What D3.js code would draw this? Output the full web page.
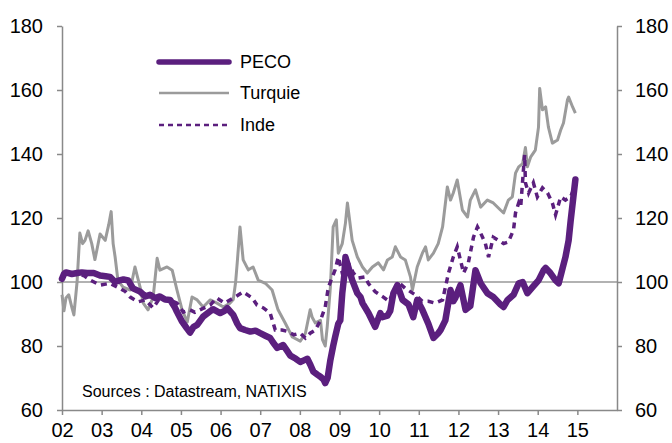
<!DOCTYPE html>
<html>
<head>
<meta charset="utf-8">
<title>PECO, Turquie, Inde</title>
<script src="https://cdn.jsdelivr.net/npm/d3@7"></script>
<style>
  body { margin: 0; background: #fff; }
  svg { display: block; font-family: "Liberation Sans", Arial, sans-serif; }
  .axis path, .axis line { stroke: #898989; stroke-width: 1.5; }
  .axis text { font-size: 20px; fill: #000; }
</style>
</head>
<body>
<svg id="chart" width="672" height="443"></svg>
<script>
// values (decimal year, index)
var peco = [
  [2002.00,101],[2002.05,102.5],[2002.10,103],[2002.25,102.5],[2002.38,102.8],[2002.50,103],
  [2002.63,102.8],[2002.80,102.8],[2002.96,102],[2003.10,101.8],[2003.21,101.6],[2003.34,100],
  [2003.45,100.5],[2003.55,100.8],[2003.67,100.5],[2003.79,98],[2003.97,97],[2004.10,95.5],
  [2004.22,96],[2004.35,95],[2004.47,95.5],[2004.60,94.5],[2004.73,94.4],[2004.85,92],
  [2004.90,90.7],[2005.03,87.6],[2005.15,85.5],[2005.23,84.2],[2005.32,86],[2005.41,86.6],
  [2005.56,89.2],[2005.70,90.5],[2005.81,91.5],[2005.99,90.3],[2006.10,91],[2006.17,91.8],
  [2006.32,89.7],[2006.42,87],[2006.49,85.6],[2006.62,85],[2006.75,84.5],[2006.88,84.8],
  [2007.00,84],[2007.13,83.2],[2007.25,82.5],[2007.33,81],[2007.43,79.4],[2007.58,80.3],
  [2007.68,78.5],[2007.76,77],[2007.90,76],[2008.01,75],[2008.10,75.5],[2008.19,76],
  [2008.27,74],[2008.34,72],[2008.45,71],[2008.52,70.4],[2008.60,69.5],[2008.64,68.4],
  [2008.70,70],[2008.77,75.6],[2008.84,80],[2008.89,82.8],[2008.97,87],[2009.02,88],
  [2009.07,96.5],[2009.12,102],[2009.15,107.8],[2009.22,104.8],[2009.32,100.6],[2009.45,96.5],
  [2009.53,95.3],[2009.58,93.4],[2009.73,90.3],[2009.90,86],[2010.03,90.3],[2010.08,89],
  [2010.21,89.5],[2010.28,91],[2010.36,96.5],[2010.46,99],[2010.59,94.4],[2010.74,93],
  [2010.86,89],[2010.96,94.4],[2011.09,91.3],[2011.24,87],[2011.37,82.5],[2011.49,84],
  [2011.55,85],[2011.67,88],[2011.80,97.5],[2011.87,94],[2011.92,95],[2012.05,99],
  [2012.18,91.3],[2012.30,92.5],[2012.43,103.7],[2012.56,99.6],[2012.73,96.5],[2012.88,95.3],
  [2013.06,93],[2013.14,92.2],[2013.24,94.4],[2013.39,96],[2013.52,99.6],[2013.62,100],
  [2013.74,96.5],[2013.87,98.4],[2014.02,100.5],[2014.15,103.7],[2014.20,104.4],[2014.32,102.8],
  [2014.45,100.5],[2014.53,99.6],[2014.60,103],[2014.70,107.8],[2014.78,113],[2014.83,119],
  [2014.90,126.6],[2014.95,132]
];

var turquie = [
  [2002.00,96],[2002.05,91],[2002.10,95],[2002.17,96],[2002.25,92],[2002.30,89.7],
  [2002.38,100],[2002.45,115.3],[2002.52,112],[2002.58,113],[2002.66,116],[2002.75,112],
  [2002.83,107],[2002.88,110],[2002.96,115],[2003.09,113],[2003.18,118],[2003.24,122],
  [2003.29,112],[2003.34,107.8],[2003.41,100.6],[2003.54,98.4],[2003.72,97.5],[2003.84,104.7],
  [2003.97,98.4],[2004.05,93.4],[2004.17,91.3],[2004.30,95.3],[2004.40,107.4],[2004.47,103.7],
  [2004.65,104.7],[2004.78,103.7],[2004.90,97.5],[2005.03,91.3],[2005.16,87.5],[2005.28,95.3],
  [2005.41,94.4],[2005.56,92.2],[2005.74,94.4],[2005.91,93.4],[2006.07,92.2],[2006.24,93.4],
  [2006.32,94.5],[2006.38,100],[2006.42,106],[2006.49,117.2],[2006.57,106.9],[2006.70,103.8],
  [2006.82,104.7],[2006.95,100.6],[2007.13,99.6],[2007.30,97.5],[2007.45,91.3],[2007.63,87.2],
  [2007.81,82.8],[2008.01,81.5],[2008.14,84],[2008.26,91.3],[2008.31,89],[2008.39,87.2],
  [2008.52,88],[2008.57,82],[2008.64,80],[2008.69,86],[2008.77,98.4],[2008.84,117.2],
  [2008.92,119.4],[2008.97,109],[2009.07,112],[2009.15,118.4],[2009.20,124.7],[2009.32,113],
  [2009.45,107.8],[2009.58,104.7],[2009.70,102.8],[2009.83,104.7],[2009.98,106],[2010.11,103.8],
  [2010.21,106.9],[2010.33,107.8],[2010.41,111],[2010.54,107.8],[2010.66,106.9],[2010.79,101.6],
  [2010.84,97.5],[2010.96,104.7],[2011.09,109],[2011.17,111],[2011.24,106.9],[2011.37,109],
  [2011.49,112],[2011.60,117.2],[2011.72,129.7],[2011.80,125.6],[2011.87,127.8],[2011.97,131.9],
  [2012.10,122.5],[2012.23,120.3],[2012.30,125.6],[2012.43,128.8],[2012.56,123.4],[2012.73,125.6],
  [2012.88,124.7],[2013.06,122.5],[2013.14,121.6],[2013.26,125.6],[2013.36,126.6],[2013.44,134],
  [2013.52,136],[2013.62,137],[2013.69,142],[2013.74,136],[2013.82,139],[2013.94,141.2],
  [2014.02,148.4],[2014.05,160.5],[2014.12,153.8],[2014.20,154.7],[2014.27,148.4],[2014.37,143.4],
  [2014.50,144.4],[2014.58,147.5],[2014.65,149.7],[2014.75,156.9],[2014.78,157.8],[2014.88,154.7],
  [2014.95,152.8]
];

var inde = [
  [2002.00,101],[2002.10,102.5],[2002.30,102.5],[2002.55,102],[2002.71,100.6],[2002.96,99],
  [2003.21,99.6],[2003.46,98],[2003.60,97],[2003.72,95.3],[2003.92,93.8],[2004.10,94.4],
  [2004.30,91.9],[2004.47,95],[2004.73,94.4],[2004.90,93.4],[2005.06,90.6],[2005.23,91.3],
  [2005.35,90.5],[2005.60,92],[2005.74,92.8],[2005.90,95],[2006.10,93.4],[2006.37,95.3],
  [2006.57,96.9],[2006.80,95],[2006.92,92.8],[2007.08,91.9],[2007.25,90.3],[2007.38,85],
  [2007.55,85],[2007.70,84.5],[2007.85,83.5],[2008.01,84],[2008.14,82.5],[2008.26,84],
  [2008.39,85],[2008.52,88],[2008.64,92.2],[2008.72,98.4],[2008.82,101.6],[2008.89,103.8],
  [2008.97,107.8],[2009.07,102.8],[2009.22,106],[2009.35,102.8],[2009.47,101.2],[2009.65,101.6],
  [2009.73,99.5],[2009.90,97],[2010.08,95.5],[2010.25,94],[2010.48,100],[2010.66,98],
  [2010.91,96],[2011.09,94],[2011.24,94],[2011.42,93.4],[2011.60,94.4],[2011.75,102.8],
  [2011.87,107.8],[2011.97,111],[2012.13,102.8],[2012.25,106],[2012.38,114],[2012.48,117.2],
  [2012.56,115.3],[2012.68,112],[2012.76,107.8],[2012.88,114],[2013.01,113],[2013.14,112],
  [2013.26,112.5],[2013.39,116.3],[2013.44,121.6],[2013.52,124.7],[2013.57,123.4],[2013.64,135],
  [2013.67,139.7],[2013.69,131],[2013.77,127.8],[2013.89,131],[2013.99,126.6],[2014.12,129.4],
  [2014.25,127.8],[2014.37,124.7],[2014.45,121],[2014.58,126.6],[2014.70,125.6],[2014.83,126.6],
  [2014.90,128.8],[2014.95,130]
];

var yearTicks = [2002,2003,2004,2005,2006,2007,2008,2009,2010,2011,2012,2013,2014,2015];
var valueTicks = [60,80,100,120,140,160,180];
var legendNames = ["PECO", "Turquie", "Inde"];

var purple = "#5b1f7e";
var grey = "#9b9b9b";

var svg = d3.select("#chart");
var plotLeft = 62, plotRight = 617, plotTop = 26, plotBottom = 410;

var x = d3.scaleLinear().domain([2002, 2016]).range([plotLeft, plotRight]);
var y = d3.scaleLinear().domain([60, 180]).range([plotBottom, plotTop]);

// reference line at 100
svg.append("line")
    .attr("x1", plotLeft).attr("x2", plotRight)
    .attr("y1", y(100)).attr("y2", y(100))
    .attr("stroke", "#999").attr("stroke-width", 1.5);

// axes
svg.append("g").attr("class", "axis")
    .attr("transform", "translate(" + plotLeft + ",0)")
    .call(d3.axisLeft(y).tickValues(valueTicks).tickSize(5).tickSizeOuter(0).tickPadding(14));

svg.append("g").attr("class", "axis")
    .attr("transform", "translate(" + plotRight + ",0)")
    .call(d3.axisRight(y).tickValues(valueTicks).tickSize(5).tickSizeOuter(0).tickPadding(13));

svg.append("g").attr("class", "axis")
    .attr("transform", "translate(0," + plotBottom + ")")
    .call(d3.axisBottom(x).tickValues(yearTicks).tickSize(5).tickSizeOuter(0).tickPadding(8)
        .tickFormat(function(d) { return d3.format("02d")(d % 100); }));

// series
var line = d3.line()
    .x(function(d) { return x(d[0]); })
    .y(function(d) { return y(d[1]); });

svg.append("path").datum(turquie)
    .attr("d", line)
    .attr("fill", "none")
    .attr("stroke", grey)
    .attr("stroke-width", 3)
    .attr("stroke-linejoin", "round");

svg.append("path").datum(peco)
    .attr("d", line)
    .attr("fill", "none")
    .attr("stroke", purple)
    .attr("stroke-width", 6.5)
    .attr("stroke-linejoin", "round")
    .attr("stroke-linecap", "round");

svg.append("path").datum(inde)
    .attr("d", line)
    .attr("fill", "none")
    .attr("stroke", purple)
    .attr("stroke-width", 3.5)
    .attr("stroke-dasharray", "6,5");

// legend
var legendStyles = [
    {stroke: purple, width: 5.5, dash: null},
    {stroke: grey, width: 2.5, dash: null},
    {stroke: purple, width: 2.5, dash: "5,4"}
];
var legendY = [62, 93, 125];
for (var i = 0; i < legendNames.length; i++) {
    svg.append("line")
        .attr("x1", 159).attr("x2", 229)
        .attr("y1", legendY[i]).attr("y2", legendY[i])
        .attr("stroke", legendStyles[i].stroke)
        .attr("stroke-width", legendStyles[i].width)
        .attr("stroke-linecap", i == 0 ? "round" : "butt")
        .attr("stroke-dasharray", legendStyles[i].dash);
    svg.append("text")
        .attr("x", 240).attr("y", legendY[i])
        .attr("dy", "0.35em")
        .attr("font-size", 18)
        .attr("fill", "#000")
        .text(legendNames[i]);
}

svg.append("text")
    .attr("x", 82).attr("y", 397)
    .attr("font-size", 16)
    .attr("fill", "#000")
    .text("Sources : Datastream, NATIXIS");
</script>
</body>
</html>
